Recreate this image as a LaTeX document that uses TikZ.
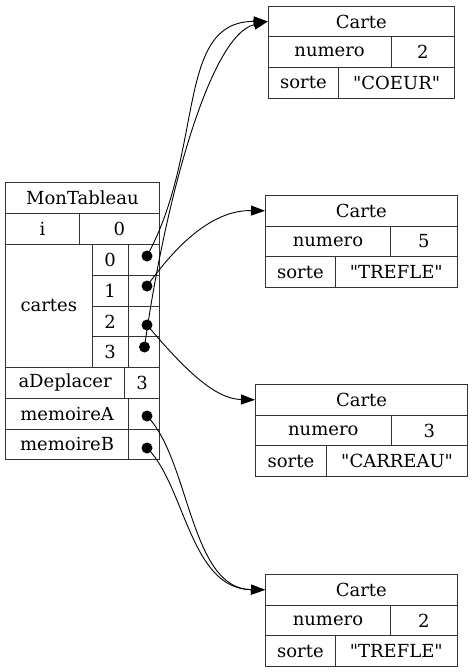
\documentclass[tikz,border=0pt]{standalone}
\usepackage{fontspec}
\setmainfont{DejaVu Serif}[Ligatures=TeXOff]
\usetikzlibrary{arrows.meta}
\tikzset{
  cell/.style={draw=black!80, line width=0.9pt, inner sep=0pt, anchor=north west,
    font=\fontsize{18}{20}\selectfont},
  ptr/.style={fill=black},
  link/.style={draw=black, line width=0.9pt, -{Triangle[length=14pt,width=10pt]}}
}
\begin{document}
\begin{tikzpicture}[x=1pt,y=-1pt]
\useasboundingbox (0,0) rectangle (472,672);
% MonTableau
\node[cell, minimum width=154pt, minimum height=31pt] (mt) at (5,182) {MonTableau};
\node[cell, minimum width=74pt, minimum height=31pt] (iL) at (5,213) {i};
\node[cell, minimum width=80pt, minimum height=31pt] (iR) at (79,213) {0};
\node[cell, minimum width=86.7pt, minimum height=123pt] (cartes) at (5,244) {cartes};
\node[cell, minimum width=36pt, minimum height=30.75pt] (k0) at (91.7,244) {0};
\node[cell, minimum width=31.3pt, minimum height=30.75pt] (p0) at (127.7,244) {};
\node[cell, minimum width=36pt, minimum height=30.75pt] (k1) at (91.7,274.75) {1};
\node[cell, minimum width=31.3pt, minimum height=30.75pt] (p1) at (127.7,274.75) {};
\node[cell, minimum width=36pt, minimum height=30.75pt] (k2) at (91.7,305.5) {2};
\node[cell, minimum width=31.3pt, minimum height=30.75pt] (p2) at (127.7,305.5) {};
\node[cell, minimum width=36pt, minimum height=30.75pt] (k3) at (91.7,336.25) {3};
\node[cell, minimum width=31.3pt, minimum height=30.75pt] (p3) at (127.7,336.25) {};
\node[cell, minimum width=119.3pt, minimum height=31pt] (ad) at (5,367) {aDeplacer};
\node[cell, minimum width=34.7pt, minimum height=31pt] (adv) at (124.3,367) {3};
\node[cell, minimum width=123.3pt, minimum height=30.5pt] (ma) at (5,398) {memoireA};
\node[cell, minimum width=30.7pt, minimum height=30.5pt] (pa) at (128.3,398) {};
\node[cell, minimum width=123.3pt, minimum height=30.5pt] (mb) at (5,428.5) {memoireB};
\node[cell, minimum width=30.7pt, minimum height=30.5pt] (pb) at (128.3,428.5) {};
% Carte 1
\node[cell, minimum width=186.3pt, minimum height=30.67pt] (c1t) at (267.7,5.7) {Carte};
\node[cell, minimum width=123pt, minimum height=30.67pt] (c1nl) at (267.7,36.37) {numero};
\node[cell, minimum width=63.3pt, minimum height=30.67pt] (c1nv) at (390.7,36.37) {2};
\node[cell, minimum width=70.6pt, minimum height=30.67pt] (c1sl) at (267.7,67.03) {sorte};
\node[cell, minimum width=115.7pt, minimum height=30.67pt] (c1sv) at (338.3,67.03) {"COEUR"};
% Carte 2
\node[cell, minimum width=191.7pt, minimum height=30.67pt] (c2t) at (265,195) {Carte};
\node[cell, minimum width=125pt, minimum height=30.67pt] (c2nl) at (265,225.67) {numero};
\node[cell, minimum width=66.7pt, minimum height=30.67pt] (c2nv) at (390,225.67) {5};
\node[cell, minimum width=70pt, minimum height=30.67pt] (c2sl) at (265,256.33) {sorte};
\node[cell, minimum width=121.7pt, minimum height=30.67pt] (c2sv) at (335,256.33) {"TREFLE"};
% Carte 3
\node[cell, minimum width=212.3pt, minimum height=30.67pt] (c3t) at (255,384) {Carte};
\node[cell, minimum width=135.7pt, minimum height=30.67pt] (c3nl) at (255,414.67) {numero};
\node[cell, minimum width=76.6pt, minimum height=30.67pt] (c3nv) at (390.7,414.67) {3};
\node[cell, minimum width=71pt, minimum height=30.67pt] (c3sl) at (255,445.33) {sorte};
\node[cell, minimum width=141.3pt, minimum height=30.67pt] (c3sv) at (326,445.33) {"CARREAU"};
% Carte 4
\node[cell, minimum width=191.7pt, minimum height=30.67pt] (c4t) at (265,574) {Carte};
\node[cell, minimum width=125pt, minimum height=30.67pt] (c4nl) at (265,604.67) {numero};
\node[cell, minimum width=66.7pt, minimum height=30.67pt] (c4nv) at (390,604.67) {2};
\node[cell, minimum width=70pt, minimum height=30.67pt] (c4sl) at (265,635.33) {sorte};
\node[cell, minimum width=121.7pt, minimum height=30.67pt] (c4sv) at (335,635.33) {"TREFLE"};
% pointer origins
\coordinate (d0) at (147,256);
\coordinate (d1) at (147,286);
\coordinate (d2) at (147,325);
\coordinate (d3) at (144.5,347);
\coordinate (da) at (147,416);
\coordinate (db) at (147,448);
% connectors
\draw[link] (d0) .. controls (205,150) and (175,21) .. (c1t.west);
\draw[link] (d3) .. controls (165,200) and (210,35) .. (c1t.west);
\draw[link] (d1) .. controls (180,240) and (215,210) .. (c2t.west);
\draw[link] (d2) .. controls (185,370) and (215,399) .. (c3t.west);
\draw[link] (da) .. controls (190,460) and (190,589) .. (c4t.west);
\draw[link] (db) .. controls (185,485) and (190,589) .. (c4t.west);
% dots
\foreach \d in {d0,d1,d2,d3,da,db} \fill[ptr] (\d) circle (5.5pt);
\end{tikzpicture}
\end{document}
